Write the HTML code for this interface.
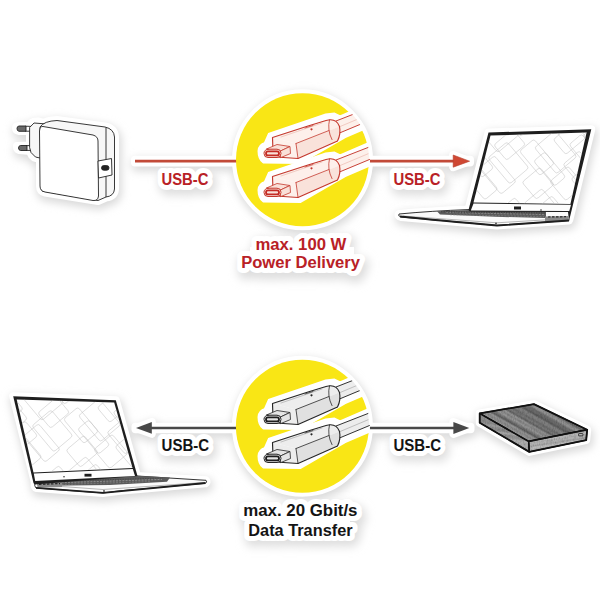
<!DOCTYPE html>
<html><head><meta charset="utf-8"><title>USB-C Cable</title>
<style>
html,body{margin:0;padding:0;background:#fff;width:600px;height:600px;overflow:hidden}
svg{display:block}
text{font-family:"Liberation Sans",sans-serif;font-weight:bold}
.cf{fill:var(--cf)}.cf2{fill:var(--cf2)}.cs{stroke:var(--cs)}.cl{stroke:var(--cl)}.cd{fill:var(--cs)}
.tf{fill:var(--tf);stroke:var(--cs)}.ts{stroke:var(--ts)}
.red{--cf:#fdf0eb;--cf2:#f9e2da;--cs:#c4382d;--cl:#eab0a5;--tf:#f9e0d8;--ts:#c42b25}
.gry{--cf:#ededed;--cf2:#e0e0e0;--cs:#262626;--cl:#a0a0a0;--tf:#e4e4e4;--ts:#1e1e1e}
</style></head><body>
<svg width="600" height="600" viewBox="0 0 600 600">
<defs>
<filter id="shb" x="-30%" y="-30%" width="160%" height="160%"><feGaussianBlur stdDeviation="4"/></filter>
<filter id="shb2" x="-30%" y="-50%" width="160%" height="200%"><feGaussianBlur stdDeviation="5"/></filter>
<filter id="sof" x="-30%" y="-30%" width="160%" height="160%"><feGaussianBlur stdDeviation="0.8"/></filter>

<path id="csil" d="M260 151 Q260 146 266 144 L270 135 L308 122 L326 116 L334 115 L340 118 L368 106 L372 110 L372 124 L344 136 L300 161.5 L264 161 Q260 158 260 151 Z"/>

<g id="conn" stroke-linejoin="round" stroke-linecap="round">
  <path d="M335 121.5 L368 108.5 L369.5 120.5 L339 133.5 Z" class="cf"/>
  <path d="M336 121 L368 108.5 M339.5 133 L369.5 120.5" class="cs" fill="none" stroke-width="0.95"/>
  <path d="M339 127 L368 114.8" class="cl" fill="none" stroke-width="0.6"/>
  <path d="M272.5 137.5 L308 126 L326 120.5 Q336 117.5 339.5 126.5 L296 143.5 Z" class="cf"/>
  <path d="M296 143.5 L339.5 126.5 Q341 134 337.5 141 L298 158.5 Z" class="cf2"/>
  <path d="M272.5 137.5 L296 143.5 L298 158.5 L276 157 Q273 156 273 152 Z" class="cf"/>
  <path d="M272.5 137.5 L308 126 L326 120.5 Q336 117.5 339.5 126.5 Q341 134 337.5 141 L298 158.5 L276 157 Q273 156 273 152 Z" class="cs" fill="none" stroke-width="1.15"/>
  <path d="M296 143.5 L329 130.5 M296 143.5 L298 158.5" class="cs" fill="none" stroke-width="0.8"/>
  <path d="M329.5 119.8 Q327 130 332 139.6" class="cs" fill="none" stroke-width="0.8"/>
  <path d="M281 137 L322 123" class="cl" fill="none" stroke-width="0.6"/>
  <path d="M305 128 L313 125.5" class="cs" fill="none" stroke-width="0.7"/>
  <circle cx="311.5" cy="129.3" r="1.1" class="cd"/>
  <path d="M266.5 149 L277 144.5 L290 146.5 L280.5 151 Z" class="tf" stroke-width="0.8"/>
  <path d="M280.5 151 L290 146.5 L290.5 153.5 L281 157.5 Z" class="tf" stroke-width="0.8"/>
  <rect x="264" y="149.2" width="17" height="8.3" rx="4" class="tf" stroke-width="1"/>
  <rect x="266" y="151.4" width="13" height="4" rx="2" class="ts" fill="none" stroke-width="1.8"/>
</g>

<clipPath id="scrR"><path d="M490.5 135.5 L586.6 132.5 L570.4 204 L473.5 202.5 Z"/></clipPath>
<clipPath id="scrL"><path d="M16.7 399.5 L114.2 402.5 L132.5 468 L33.5 472.5 Z"/></clipPath>
<clipPath id="ccT"><circle cx="302.5" cy="159.8" r="67.5"/></clipPath>
<clipPath id="ccB"><circle cx="302.4" cy="426.2" r="67.5"/></clipPath>
<g id="pat" fill="none" stroke="#c2c2c2" stroke-width="0.5"><g transform="rotate(-40)"><rect x="-96.8" y="-102.2" width="23.0" height="34.5" rx="2.5"/><rect x="-92.2" y="-78.2" width="17.0" height="26.2" rx="2.5"/><rect x="-91.3" y="-58.0" width="18.9" height="17.8" rx="2.5"/><rect x="-98.3" y="-50.5" width="29.7" height="35.3" rx="2.5"/><rect x="-96.5" y="-33.4" width="14.2" height="26.6" rx="2.5"/><rect x="-92.8" y="-9.2" width="14.5" height="25.3" rx="2.5"/><rect x="-95.5" y="3.6" width="24.2" height="26.0" rx="2.5"/><rect x="-96.6" y="18.1" width="30.0" height="35.9" rx="2.5"/><rect x="-98.1" y="42.8" width="17.7" height="21.8" rx="2.5"/><rect x="-94.2" y="59.6" width="27.5" height="23.7" rx="2.5"/><rect x="-94.0" y="72.7" width="17.4" height="34.2" rx="2.5"/><rect x="-72.8" y="-101.6" width="15.2" height="28.6" rx="2.5"/><rect x="-75.1" y="-89.5" width="19.3" height="35.3" rx="2.5"/><rect x="-72.8" y="-62.8" width="15.6" height="17.2" rx="2.5"/><rect x="-76.3" y="-47.6" width="21.2" height="19.8" rx="2.5"/><rect x="-80.7" y="-5.4" width="20.7" height="20.3" rx="2.5"/><rect x="-83.1" y="27.4" width="28.2" height="20.2" rx="2.5"/><rect x="-85.3" y="60.6" width="29.8" height="20.3" rx="2.5"/><rect x="-81.5" y="77.1" width="18.7" height="17.5" rx="2.5"/><rect x="-63.3" y="-92.1" width="23.6" height="23.4" rx="2.5"/><rect x="-65.8" y="-88.1" width="23.2" height="33.3" rx="2.5"/><rect x="-55.1" y="-35.4" width="17.0" height="30.8" rx="2.5"/><rect x="-54.2" y="40.0" width="15.7" height="16.8" rx="2.5"/><rect x="-66.7" y="67.8" width="27.2" height="27.9" rx="2.5"/><rect x="-39.3" y="-80.5" width="17.7" height="27.2" rx="2.5"/><rect x="-53.2" y="-63.3" width="28.7" height="20.1" rx="2.5"/><rect x="-42.8" y="-43.0" width="15.0" height="19.5" rx="2.5"/><rect x="-39.1" y="-32.3" width="19.8" height="33.8" rx="2.5"/><rect x="-46.9" y="12.8" width="16.2" height="16.7" rx="2.5"/><rect x="-43.8" y="53.4" width="24.2" height="25.6" rx="2.5"/><rect x="-24.4" y="-98.0" width="22.7" height="30.7" rx="2.5"/><rect x="-25.8" y="-34.8" width="25.0" height="34.0" rx="2.5"/><rect x="-28.2" y="23.3" width="24.0" height="23.6" rx="2.5"/><rect x="-25.3" y="35.3" width="24.2" height="35.9" rx="2.5"/><rect x="-30.5" y="57.6" width="25.8" height="27.6" rx="2.5"/><rect x="-29.0" y="76.5" width="26.0" height="16.6" rx="2.5"/><rect x="-11.4" y="-93.8" width="25.2" height="25.9" rx="2.5"/><rect x="-5.3" y="-82.0" width="14.2" height="22.0" rx="2.5"/><rect x="-14.8" y="-61.7" width="28.5" height="29.2" rx="2.5"/><rect x="-13.0" y="-40.9" width="24.7" height="20.0" rx="2.5"/><rect x="-15.3" y="5.8" width="23.3" height="22.3" rx="2.5"/><rect x="6.4" y="-100.4" width="16.7" height="25.0" rx="2.5"/><rect x="3.1" y="-77.5" width="24.0" height="25.9" rx="2.5"/><rect x="13.1" y="-46.9" width="15.2" height="16.6" rx="2.5"/><rect x="2.7" y="-19.6" width="18.9" height="31.8" rx="2.5"/><rect x="7.2" y="-2.9" width="14.4" height="32.6" rx="2.5"/><rect x="6.3" y="23.1" width="24.1" height="24.9" rx="2.5"/><rect x="18.3" y="-95.1" width="21.6" height="19.6" rx="2.5"/><rect x="26.8" y="-62.3" width="18.4" height="22.9" rx="2.5"/><rect x="16.5" y="-12.7" width="26.7" height="34.1" rx="2.5"/><rect x="27.5" y="18.5" width="21.3" height="28.5" rx="2.5"/><rect x="24.4" y="34.7" width="28.1" height="31.9" rx="2.5"/><rect x="22.6" y="71.0" width="25.6" height="32.4" rx="2.5"/><rect x="41.6" y="-102.4" width="28.4" height="35.6" rx="2.5"/><rect x="35.2" y="-71.7" width="28.6" height="33.1" rx="2.5"/><rect x="39.5" y="-54.4" width="22.8" height="31.4" rx="2.5"/><rect x="36.0" y="-6.8" width="26.8" height="19.5" rx="2.5"/><rect x="45.0" y="7.2" width="16.4" height="26.3" rx="2.5"/><rect x="33.6" y="59.4" width="29.2" height="17.7" rx="2.5"/><rect x="38.4" y="74.0" width="25.7" height="28.8" rx="2.5"/><rect x="62.0" y="-92.8" width="19.0" height="23.6" rx="2.5"/><rect x="54.4" y="-85.0" width="27.6" height="35.4" rx="2.5"/><rect x="57.8" y="-68.8" width="22.6" height="26.1" rx="2.5"/><rect x="58.4" y="-33.1" width="20.4" height="32.0" rx="2.5"/><rect x="61.3" y="9.1" width="22.6" height="24.3" rx="2.5"/><rect x="56.6" y="27.9" width="21.6" height="18.5" rx="2.5"/><rect x="59.6" y="62.3" width="19.1" height="19.8" rx="2.5"/><rect x="51.7" y="74.0" width="26.5" height="16.5" rx="2.5"/><rect x="71.2" y="-79.9" width="19.7" height="28.4" rx="2.5"/><rect x="70.9" y="-61.2" width="22.2" height="21.0" rx="2.5"/><rect x="75.3" y="-49.5" width="20.0" height="24.3" rx="2.5"/><rect x="73.2" y="-27.9" width="24.1" height="28.8" rx="2.5"/><rect x="76.1" y="16.1" width="25.9" height="32.2" rx="2.5"/><rect x="75.6" y="44.7" width="28.8" height="20.4" rx="2.5"/><rect x="73.7" y="48.7" width="17.8" height="30.5" rx="2.5"/></g></g>
<linearGradient id="hddTop" gradientUnits="userSpaceOnUse" x1="507" y1="434" x2="528" y2="397"><stop offset="0.000" stop-color="#828282"/><stop offset="0.045" stop-color="#898989"/><stop offset="0.091" stop-color="#8d8d8d"/><stop offset="0.136" stop-color="#969696"/><stop offset="0.182" stop-color="#898989"/><stop offset="0.227" stop-color="#959595"/><stop offset="0.273" stop-color="#5d5d5d"/><stop offset="0.318" stop-color="#787878"/><stop offset="0.364" stop-color="#969696"/><stop offset="0.409" stop-color="#848484"/><stop offset="0.455" stop-color="#939393"/><stop offset="0.500" stop-color="#636363"/><stop offset="0.545" stop-color="#797979"/><stop offset="0.591" stop-color="#6b6b6b"/><stop offset="0.636" stop-color="#7d7d7d"/><stop offset="0.682" stop-color="#7f7f7f"/><stop offset="0.727" stop-color="#5c5c5c"/><stop offset="0.773" stop-color="#696969"/><stop offset="0.818" stop-color="#6d6d6d"/><stop offset="0.864" stop-color="#949494"/><stop offset="0.909" stop-color="#8b8b8b"/><stop offset="0.955" stop-color="#656565"/><stop offset="1.000" stop-color="#8d8d8d"/></linearGradient><linearGradient id="hddL" gradientUnits="userSpaceOnUse" x1="500" y1="425" x2="498" y2="440"><stop offset="0.000" stop-color="#8d8d8d"/><stop offset="0.125" stop-color="#a0a0a0"/><stop offset="0.250" stop-color="#8d8d8d"/><stop offset="0.375" stop-color="#888888"/><stop offset="0.500" stop-color="#aaaaaa"/><stop offset="0.625" stop-color="#909090"/><stop offset="0.750" stop-color="#909090"/><stop offset="0.875" stop-color="#afafaf"/><stop offset="1.000" stop-color="#aaaaaa"/></linearGradient><linearGradient id="hddF" gradientUnits="userSpaceOnUse" x1="555" y1="436" x2="557" y2="449"><stop offset="0.000" stop-color="#a3a3a3"/><stop offset="0.125" stop-color="#bebebe"/><stop offset="0.250" stop-color="#adadad"/><stop offset="0.375" stop-color="#b3b3b3"/><stop offset="0.500" stop-color="#a0a0a0"/><stop offset="0.625" stop-color="#bdbdbd"/><stop offset="0.750" stop-color="#b3b3b3"/><stop offset="0.875" stop-color="#bebebe"/><stop offset="1.000" stop-color="#bbbbbb"/></linearGradient><filter id="grain" x="0" y="0" width="100%" height="100%"><feTurbulence type="fractalNoise" baseFrequency="0.9 0.35" numOctaves="2" seed="4" result="n"/><feColorMatrix in="n" type="matrix" values="0 0 0 0 0  0 0 0 0 0  0 0 0 0 0  0 0 0 -0.9 0.55" result="a"/><feComposite in="a" in2="SourceGraphic" operator="in"/></filter>
</defs>

<!-- ===== sticker shadows ===== -->
<g transform="translate(1.5 3.5)" filter="url(#shb)">
  <g fill="#d9d9d9" stroke="#d9d9d9" stroke-width="10" stroke-linejoin="round">
<path d="M16 128 Q16 126 19 126 L30 126 Q31 121 38 121.5 L44 123 Q46 120.5 57 120 L105 126.5 Q114.5 128.5 115 137 L115 189 Q114.5 196.5 106 197.5 L98 201 L45 192.5 Q40 191.5 40 186 L40 158 L36 158 Q31 157 30.5 151 L19 150 Q17 149 17 147.5 L17 146 L30 145.5 L30 131 L19 131 Q16 130.5 16 128 Z"/>
<path d="M399 214 Q430 211 468.5 209.5 L488.5 132.5 L591.3 129.3 L569.5 219 L569 220.5 L497 225.5 L401 217 Q397.5 216 399 214 Z"/>
<path d="M13.2 396.2 L115.8 400.2 L137 476 L206 480.3 Q207.5 482 205.5 483.3 L120 490.8 L103 493 L36 488 Q34 486 35 483 Z"/>
<path d="M479.7 413.4 L533.9 404.1 L587.2 429.7 L586.2 440.2 L529.3 451.9 L479.7 422.8 Z"/>
<circle cx="302.5" cy="159.8" r="66.5"/>
<circle cx="302.4" cy="426.2" r="66.5"/>
<rect x="135" y="159.8" width="335" height="2.6"/>
<path d="M453.2 155 L469.6 161.2 L453.2 167.2 Z"/>
<rect x="135.5" y="426.7" width="335" height="2.6"/>
<path d="M151.8 422 L136 427.9 L151.8 433.8 Z"/>
<path d="M453.4 422 L469.3 427.9 L453.4 433.9 Z"/>
  </g>
</g>
<g transform="translate(2.5 4.5)" filter="url(#shb2)">
  <g fill="#dddddd" stroke="#dddddd" stroke-width="13" stroke-linejoin="round">
<text x="161.5" y="184.7" font-size="16" textLength="47" lengthAdjust="spacingAndGlyphs" fill="#dddddd" >USB-C</text>
<text x="393.5" y="184.7" font-size="16" textLength="47" lengthAdjust="spacingAndGlyphs" fill="#dddddd" >USB-C</text>
<text x="255.4" y="249.8" font-size="16" textLength="91" lengthAdjust="spacingAndGlyphs" fill="#dddddd" >max. 100 W</text>
<text x="241.2" y="268.4" font-size="16" textLength="118.8" lengthAdjust="spacingAndGlyphs" fill="#dddddd" >Power Delivery</text>
<text x="161.6" y="450.6" font-size="16" textLength="47.6" lengthAdjust="spacingAndGlyphs" fill="#dddddd" >USB-C</text>
<text x="393.5" y="450.6" font-size="16" textLength="47.5" lengthAdjust="spacingAndGlyphs" fill="#dddddd" >USB-C</text>
<text x="243.2" y="516" font-size="16" textLength="114.3" lengthAdjust="spacingAndGlyphs" fill="#dddddd" >max. 20 Gbit/s</text>
<text x="248.3" y="535.5" font-size="16" textLength="104.3" lengthAdjust="spacingAndGlyphs" fill="#dddddd" >Data Transfer</text>
  </g>
</g>
<!-- ===== sticker white ===== -->
<g fill="#fff" stroke="#fff" stroke-width="8" stroke-linejoin="round">
<path d="M16 128 Q16 126 19 126 L30 126 Q31 121 38 121.5 L44 123 Q46 120.5 57 120 L105 126.5 Q114.5 128.5 115 137 L115 189 Q114.5 196.5 106 197.5 L98 201 L45 192.5 Q40 191.5 40 186 L40 158 L36 158 Q31 157 30.5 151 L19 150 Q17 149 17 147.5 L17 146 L30 145.5 L30 131 L19 131 Q16 130.5 16 128 Z"/>
<path d="M399 214 Q430 211 468.5 209.5 L488.5 132.5 L591.3 129.3 L569.5 219 L569 220.5 L497 225.5 L401 217 Q397.5 216 399 214 Z"/>
<path d="M13.2 396.2 L115.8 400.2 L137 476 L206 480.3 Q207.5 482 205.5 483.3 L120 490.8 L103 493 L36 488 Q34 486 35 483 Z"/>
<path d="M479.7 413.4 L533.9 404.1 L587.2 429.7 L586.2 440.2 L529.3 451.9 L479.7 422.8 Z"/>
<circle cx="302.5" cy="159.8" r="66.5"/>
<circle cx="302.4" cy="426.2" r="66.5"/>
<rect x="135" y="159.8" width="335" height="2.6"/>
<path d="M453.2 155 L469.6 161.2 L453.2 167.2 Z"/>
<rect x="135.5" y="426.7" width="335" height="2.6"/>
<path d="M151.8 422 L136 427.9 L151.8 433.8 Z"/>
<path d="M453.4 422 L469.3 427.9 L453.4 433.9 Z"/>
</g>
<g fill="#fff" stroke="#fff" stroke-width="10" stroke-linejoin="round">
<text x="161.5" y="184.7" font-size="16" textLength="47" lengthAdjust="spacingAndGlyphs" fill="#fff" >USB-C</text>
<text x="393.5" y="184.7" font-size="16" textLength="47" lengthAdjust="spacingAndGlyphs" fill="#fff" >USB-C</text>
<text x="255.4" y="249.8" font-size="16" textLength="91" lengthAdjust="spacingAndGlyphs" fill="#fff" >max. 100 W</text>
<text x="241.2" y="268.4" font-size="16" textLength="118.8" lengthAdjust="spacingAndGlyphs" fill="#fff" >Power Delivery</text>
<text x="161.6" y="450.6" font-size="16" textLength="47.6" lengthAdjust="spacingAndGlyphs" fill="#fff" >USB-C</text>
<text x="393.5" y="450.6" font-size="16" textLength="47.5" lengthAdjust="spacingAndGlyphs" fill="#fff" >USB-C</text>
<text x="243.2" y="516" font-size="16" textLength="114.3" lengthAdjust="spacingAndGlyphs" fill="#fff" >max. 20 Gbit/s</text>
<text x="248.3" y="535.5" font-size="16" textLength="104.3" lengthAdjust="spacingAndGlyphs" fill="#fff" >Data Transfer</text>
</g>
<rect x="250" y="247" width="104" height="12" fill="#fff"/>
<rect x="250" y="513" width="100" height="12" fill="#fff"/>

<!-- ============ TOP ROW ============ -->
<g stroke="#c24a38" stroke-width="2.6" fill="none">
  <line x1="135" y1="161.1" x2="242" y2="161.1"/>
  <line x1="362" y1="161.1" x2="456" y2="161.1"/>
</g>
<path d="M453.2 155 L469.6 161.2 L453.2 167.2 Z" fill="#cf4833" stroke="#b8412f" stroke-width="0.6" stroke-linejoin="round"/>

<!-- charger -->
<g stroke="#222" stroke-width="0.9" stroke-linejoin="round">
  <path d="M25.5 126.2 L31 126.4 L31 131.2 L25.5 131.2 Z" fill="#fff"/>
  <path d="M26.5 145.6 L31 145.6 L31 150.4 L26.5 150.4 Z" fill="#fff"/>
  <path d="M19 126 L26 126 L26 131.3 L19 131.3 Q17 131 17 128.6 Q17 126.2 19 126 Z" fill="#6a6a6a"/>
  <path d="M20.5 145.5 L27 145.5 L27 150.5 L20.5 150.5 Q18.5 150.2 18.5 148 Q18.5 145.8 20.5 145.5 Z" fill="#6a6a6a"/>
  <path d="M29.6 127.5 L34 123 L47 124 L46 158 L39 157.8 L35.5 157 L31 152.5 L29.6 147.5 Z" fill="#f7f7f7"/>
  <path d="M40 127 Q44 121 57 120.5 L105 127 Q114 129 114.5 137 L114.5 189 Q114 196 106 197 L98 200.5 L42 191 Z" fill="#f7f7f7"/>
  <path d="M43 126.5 L93 135 Q98 136.5 98 141 L98.5 196 Q98 201 93 200.5 L45 192 Q40 191 40 186 L39.5 131 Q40 126 43 126.5 Z" fill="#fff"/>
  <line x1="106" y1="127.5" x2="106" y2="197" fill="none"/>
  <path d="M98 161 L111.5 158.5 L112 175 L98.5 178 Z" fill="#fff"/>
  <rect x="101.5" y="165.6" width="7.5" height="4.6" rx="2.3" fill="#222"/>
</g>

<!-- top circle -->
<circle cx="302.5" cy="159.8" r="66.5" fill="#f9e615"/>
<g class="red" clip-path="url(#ccT)">
  <use href="#csil" fill="#fff" stroke="#fff" stroke-width="5"/>
  <use href="#csil" fill="#fff" stroke="#fff" stroke-width="5" transform="translate(0 39)"/>
  <use href="#conn"/>
  <use href="#conn" transform="translate(0 39)"/>
</g>

<!-- top-right laptop -->
<g stroke-linejoin="round">
  <path d="M399 214 Q430 211 470 209.5 L569 211.5 L569 220.5 L497 225.5 L401 217 Q397.5 216 399 214 Z" fill="#fafafa" stroke="#1e1e1e" stroke-width="0.9"/>
  <path d="M437 211.2 L470 210 L546 211.5 L546 218 L495 216.8 L440 214.4 Z" fill="#5a5a5a"/>
  <path d="M450 214.8 L544 216.6" stroke="#8a8a8a" stroke-width="0.6" fill="none" stroke-dasharray="2 1.2"/>
  <path d="M446 212.5 L545 214.6" stroke="#999" stroke-width="0.7" fill="none" stroke-dasharray="2 1.2"/>
  <path d="M441 211.8 L545 213" stroke="#333" stroke-width="0.8" fill="none" stroke-dasharray="1.5 1"/>
  <path d="M545 216.5 L568.5 216 L568.5 220.5 L545 221.5 Z" fill="#8a8a8a"/>
  <path d="M548 217 L566 216.7" stroke="#222" stroke-width="1.2" stroke-dasharray="2.5 1.5"/>
  <path d="M403 216 L497 222.8 L568 218.5" stroke="#888" stroke-width="0.6" fill="none"/>
  <path d="M400 216.5 Q440 220.5 497 225.5 L569 220.5" fill="none" stroke="#1e1e1e" stroke-width="1.8"/>
  <circle cx="496" cy="223.5" r="0.9" fill="#444"/>
  <path d="M488.5 132.5 L591.3 129.3 L569.5 219 L568 212 L470 211.5 L468.5 210 Z" fill="#1e1e1e"/>
  <path d="M490.5 135.5 L586.6 132.5 L570.4 204 L473.5 202.5 Z" fill="#fff"/>
  <path d="M473.5 203.6 L571 204.8 L569.3 211 L470.8 210.4 Z" fill="#fdfdfd"/>
  <rect x="514" y="206.5" width="7" height="3" fill="#1e1e1e"/>
  <circle cx="541" cy="210" r="0.8" fill="#333"/>
  <g clip-path="url(#scrR)"><use href="#pat" transform="translate(530 168)"/></g>
</g>

<!-- ============ BOTTOM ROW ============ -->
<g stroke="#484848" stroke-width="2.7" fill="none">
  <line x1="150" y1="428" x2="242" y2="428"/>
  <line x1="362" y1="428" x2="456" y2="428"/>
</g>
<path d="M151.8 422 L136 427.9 L151.8 433.8 Z" fill="#484848"/>
<path d="M453.4 422 L469.3 427.9 L453.4 433.9 Z" fill="#484848"/>

<circle cx="302.4" cy="426.2" r="66.5" fill="#f9e615"/>
<g clip-path="url(#ccB)"><g class="gry" transform="translate(0 266)">
  <use href="#csil" fill="#fff" stroke="#fff" stroke-width="5"/>
  <use href="#csil" fill="#fff" stroke="#fff" stroke-width="5" transform="translate(0 39)"/>
  <use href="#conn"/>
  <use href="#conn" transform="translate(0 39)"/>
</g></g>

<!-- bottom-left laptop -->
<g stroke-linejoin="round">
  <path d="M35 483 L137 476 L206 480.3 Q207.5 482 205.5 483.3 L120 490.8 L103 493 L36 488 Q34 486 35 483 Z" fill="#fafafa" stroke="#1e1e1e" stroke-width="0.9"/>
  <path d="M47 480.6 L137 475.8 L170 477.6 L167 481.8 L110 485 L48 485.8 Z" fill="#5a5a5a"/>
  <path d="M52 483 L162 479.4" stroke="#9a9a9a" stroke-width="0.8" fill="none" stroke-dasharray="2 1.2"/>
  <path d="M52 484.8 L150 481.6" stroke="#8a8a8a" stroke-width="0.6" fill="none" stroke-dasharray="2 1.2"/>
  <path d="M50 481.5 L163 478" stroke="#444" stroke-width="0.8" fill="none" stroke-dasharray="1.5 1"/>
  <path d="M37 483.3 L62 482.3 L62 487 L37.5 487.8 Z" fill="#8a8a8a"/>
  <path d="M39 484.3 L60 483.6" stroke="#222" stroke-width="1.2" stroke-dasharray="2.5 1.5"/>
  <path d="M62 486.5 L103 489.5 L204 482.5" stroke="#888" stroke-width="0.6" fill="none"/>
  <path d="M36 487.8 L103 492.8 L205.5 483" fill="none" stroke="#1e1e1e" stroke-width="1.8"/>
  <circle cx="104" cy="491" r="0.9" fill="#444"/>
  <path d="M13.2 396.2 L115.8 400.2 L137.5 476 L34.5 484.5 L33.5 483 Z" fill="#1e1e1e"/>
  <path d="M16.7 399.5 L114.2 402.5 L132.5 468 L33.5 472.5 Z" fill="#fff"/>
  <path d="M33.8 473.6 L132.8 469 L135 476 L35.2 481 Z" fill="#fdfdfd"/>
  <rect x="84.5" y="473.8" width="7" height="2.8" fill="#1e1e1e"/>
  <circle cx="64" cy="476.7" r="0.8" fill="#333"/>
  <g clip-path="url(#scrL)"><use href="#pat" transform="translate(74 436)"/></g>
</g>

<!-- HDD -->
<g stroke="#111" stroke-width="1.2" stroke-linejoin="round">
  <path d="M479.7 413.4 L533.9 404.1 L587.2 429.7 L528.7 441.4 Z" fill="url(#hddTop)"/>
  <path d="M479.7 413.4 L528.7 441.4 L529.3 451.9 L479.7 422.8 Z" fill="url(#hddL)"/>
  <path d="M528.7 441.4 L587.2 429.7 L586.2 440.2 L529.3 451.9 Z" fill="url(#hddF)"/>
</g>
<g filter="url(#grain)" fill="#000" opacity="0.4">
  <path d="M479.7 413.4 L533.9 404.1 L587.2 429.7 L528.7 441.4 Z"/>
  <path d="M479.7 413.4 L528.7 441.4 L529.3 451.9 L479.7 422.8 Z"/>
  <path d="M528.7 441.4 L587.2 429.7 L586.2 440.2 L529.3 451.9 Z"/>
</g>
<g stroke="#111" stroke-linejoin="round" fill="none">
  <path d="M479.7 413.4 L533.9 404.1 L587.2 429.7 L586.2 440.2 L529.3 451.9 L479.7 422.8 Z" stroke-width="1.8"/>
  <path d="M479.7 413.4 L528.7 441.4 L587.2 429.7 M528.7 441.4 L529.3 451.9" stroke-width="1.6"/>
  <rect x="578.5" y="433.5" width="4.5" height="2.4" rx="0.8" stroke-width="0.7"/>
</g>

<!-- texts -->
<g>
<text x="161.5" y="184.7" font-size="16" textLength="47" lengthAdjust="spacingAndGlyphs" fill="#b92126" >USB-C</text>
<text x="393.5" y="184.7" font-size="16" textLength="47" lengthAdjust="spacingAndGlyphs" fill="#b92126" >USB-C</text>
<text x="255.4" y="249.8" font-size="16" textLength="91" lengthAdjust="spacingAndGlyphs" fill="#b92126" >max. 100 W</text>
<text x="241.2" y="268.4" font-size="16" textLength="118.8" lengthAdjust="spacingAndGlyphs" fill="#b92126" >Power Delivery</text>
<text x="161.6" y="450.6" font-size="16" textLength="47.6" lengthAdjust="spacingAndGlyphs" fill="#141414" >USB-C</text>
<text x="393.5" y="450.6" font-size="16" textLength="47.5" lengthAdjust="spacingAndGlyphs" fill="#141414" >USB-C</text>
<text x="243.2" y="516" font-size="16" textLength="114.3" lengthAdjust="spacingAndGlyphs" fill="#141414" >max. 20 Gbit/s</text>
<text x="248.3" y="535.5" font-size="16" textLength="104.3" lengthAdjust="spacingAndGlyphs" fill="#141414" >Data Transfer</text>
</g>

</svg>
</body></html>
